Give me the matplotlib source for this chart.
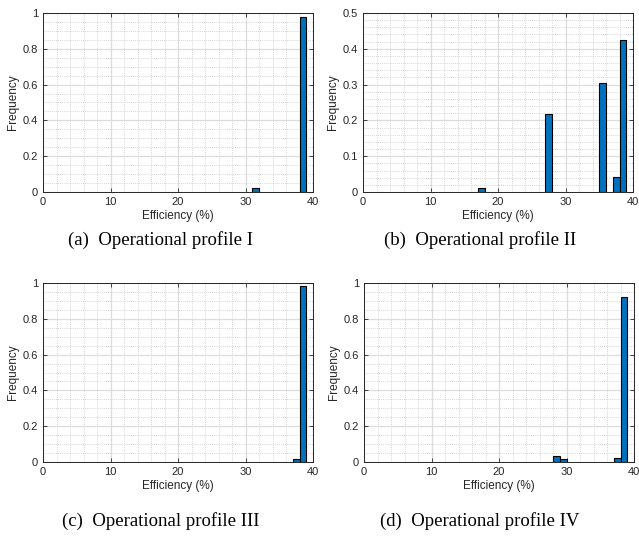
import matplotlib
matplotlib.use("Agg")
import matplotlib.pyplot as plt
from matplotlib.ticker import MultipleLocator

# Data: histogram bins (left edge, %) and frequencies
bins_a = [31, 38]
freq_a = [0.022, 0.978]
bins_b = [17, 27, 35, 37, 38]
freq_b = [0.010, 0.217, 0.305, 0.043, 0.425]
bins_c = [37, 38]
freq_c = [0.018, 0.982]
bins_d = [28, 29, 37, 38]
freq_d = [0.035, 0.017, 0.025, 0.923]

captions = ["(a)  Operational profile I", "(b)  Operational profile II",
            "(c)  Operational profile III", "(d)  Operational profile IV"]
ymax = [1, 0.5, 1, 1]
ymajor = [0.2, 0.1, 0.2, 0.2]
yminor = [0.05, 0.02, 0.05, 0.05]
yticklabels = [["0", "0.2", "0.4", "0.6", "0.8", "1"],
               ["0", "0.1", "0.2", "0.3", "0.4", "0.5"],
               ["0", "0.2", "0.4", "0.6", "0.8", "1"],
               ["0", "0.2", "0.4", "0.6", "0.8", "1"]]

W, H = 639, 536
fig = plt.figure(figsize=(W / 100, H / 100), dpi=100)
plt.rcParams['font.family'] = ['Liberation Sans', 'DejaVu Sans']

# axes boxes in pixels: left, top, right, bottom
boxes = [(43, 13, 313, 192), (363, 13, 633, 192),
         (43, 283, 313, 462), (364, 283, 634, 462)]
caption_pos = [(161, 240), (480, 240), (161, 521), (480, 521)]
data = [(bins_a, freq_a), (bins_b, freq_b), (bins_c, freq_c), (bins_d, freq_d)]

for i, ((l, t, r, b), (bx, fy)) in enumerate(zip(boxes, data)):
    ax = fig.add_axes([l / W, 1 - b / H, (r - l) / W, (b - t) / H])
    ax.bar(bx, fy, width=1, align='edge', color='#0072BD', edgecolor='black',
           linewidth=0.8, zorder=3)
    ax.set_xlim(0, 40)
    ax.set_ylim(0, ymax[i])
    ax.xaxis.set_minor_locator(MultipleLocator(2))
    ax.yaxis.set_minor_locator(MultipleLocator(yminor[i]))
    ax.set_yticks([k * ymajor[i] for k in range(6)])
    ax.set_yticklabels(yticklabels[i])
    ax.set_xticks([0, 10, 20, 30, 40])
    ax.set_xticklabels(["0", "10", "20", "30", "40"])
    ax.grid(which='major', color='#dcdcdc', linewidth=0.9, linestyle='-', zorder=0)
    ax.grid(which='minor', color='#c8c8c8', linewidth=0.6, linestyle=(0, (1, 1.5)), zorder=0)
    ax.set_axisbelow(True)
    ax.tick_params(which='both', direction='in', top=True, right=True,
                   labelsize=8, colors='#262626', length=3, width=0.6)
    ax.tick_params(which='minor', length=0)
    for s in ax.spines.values():
        s.set_color('#262626')
        s.set_linewidth(0.7)
    ax.set_xlabel("Efficiency (%)", fontsize=8.5, color='#262626', labelpad=2)
    ax.set_ylabel("Frequency", fontsize=8.5, color='#262626', labelpad=3)
    cx, cy = caption_pos[i]
    fig.text(cx / W, 1 - cy / H, captions[i], ha='center', va='center',
             fontsize=13.5, family='Liberation Serif', color='black')

fig.savefig("out.png", dpi=100)
